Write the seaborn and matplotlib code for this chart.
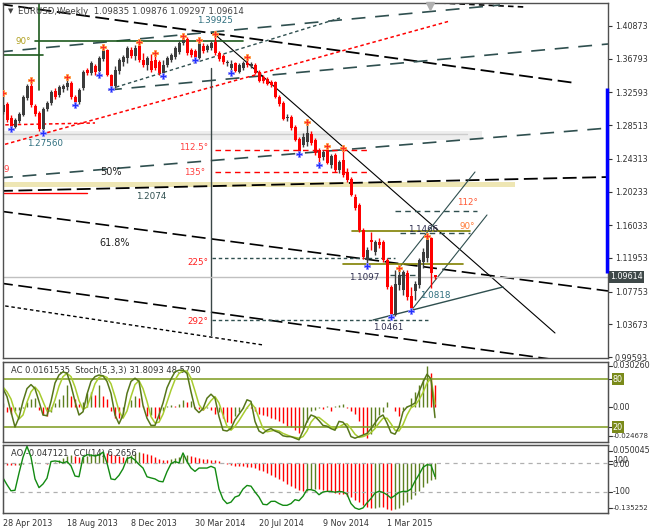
import numpy as np
import matplotlib
matplotlib.use("Agg")
import matplotlib.pyplot as plt
import matplotlib.transforms as mtransforms
import seaborn as sns

sns.set_style("white")
plt.rcParams['font.family'] = ['DejaVu Sans']
plt.rcParams['font.size'] = 5.8
plt.rcParams['lines.scale_dashes'] = False

# weekly EURUSD candles, one per week from 28 Apr 2013
opens = [1.3015, 1.3115, 1.2940, 1.2828, 1.2903, 1.2977, 1.3189, 1.3339, 1.3090, 1.3002,
         1.2803, 1.3052, 1.3127, 1.3277, 1.3227, 1.3302, 1.3327, 1.3377, 1.3202, 1.3140,
         1.3314, 1.3539, 1.3501, 1.3589, 1.3526, 1.3676, 1.3788, 1.3476, 1.3339, 1.3526,
         1.3638, 1.3688, 1.3788, 1.3713, 1.3838, 1.3663, 1.3601, 1.3651, 1.3663, 1.3638,
         1.3501, 1.3601, 1.3663, 1.3701, 1.3763, 1.3875, 1.3925, 1.3788, 1.3776, 1.3688,
         1.3838, 1.3788, 1.3813, 1.3888, 1.3751, 1.3713, 1.3626, 1.3564, 1.3626, 1.3514,
         1.3564, 1.3626, 1.3589, 1.3601, 1.3514, 1.3451, 1.3426, 1.3389, 1.3389, 1.3202,
         1.3127, 1.2940, 1.2952, 1.2828, 1.2678, 1.2603, 1.2641, 1.2741, 1.2666, 1.2541,
         1.2454, 1.2541, 1.2354, 1.2479, 1.2292, 1.2416, 1.2267, 1.2179, 1.1955, 1.1855,
         1.1544, 1.1169, 1.1419, 1.1269, 1.1394, 1.1394, 1.1169, 1.0833, 1.0483, 1.0857,
         1.0795, 1.1007, 1.0720, 1.0783, 1.0857, 1.1144, 1.1194, 1.1440, 1.09835]
highs = [1.3252, 1.3140, 1.2977, 1.2940, 1.3015, 1.3227, 1.3364, 1.3414, 1.3115, 1.3027,
         1.3077, 1.3152, 1.3289, 1.3314, 1.3352, 1.3364, 1.3451, 1.3401, 1.3227, 1.3314,
         1.3539, 1.3564, 1.3651, 1.3613, 1.3713, 1.3825, 1.3800, 1.3489, 1.3589, 1.3688,
         1.3726, 1.3838, 1.3825, 1.3850, 1.3888, 1.3751, 1.3713, 1.3738, 1.3751, 1.3663,
         1.3663, 1.3713, 1.3751, 1.3838, 1.3900, 1.3963, 1.3950, 1.3813, 1.3800, 1.3913,
         1.3875, 1.3863, 1.3900, 1.39925, 1.3776, 1.3738, 1.3663, 1.3663, 1.3638, 1.3626,
         1.3651, 1.3701, 1.3638, 1.3626, 1.3539, 1.3476, 1.3451, 1.3414, 1.3401, 1.3227,
         1.3152, 1.2990, 1.2977, 1.2853, 1.2703, 1.2753, 1.2890, 1.2778, 1.2691, 1.2566,
         1.2541, 1.2591, 1.2491, 1.2504, 1.2416, 1.2566, 1.2316, 1.2204, 1.1992, 1.1880,
         1.1569, 1.1332, 1.1519, 1.1419, 1.1444, 1.1419, 1.1194, 1.0857, 1.1045, 1.1070,
         1.1045, 1.1045, 1.0833, 1.0908, 1.1194, 1.1319, 1.1466, 1.1452, 1.09876]
lows = [1.2990, 1.2890, 1.2803, 1.2815, 1.2878, 1.2965, 1.3165, 1.3077, 1.2965, 1.2778,
        1.2756, 1.3027, 1.3102, 1.3177, 1.3202, 1.3264, 1.3289, 1.3177, 1.3102, 1.3115,
        1.3289, 1.3476, 1.3476, 1.3476, 1.3476, 1.3651, 1.3464, 1.3302, 1.3314, 1.3489,
        1.3589, 1.3626, 1.3688, 1.3663, 1.3638, 1.3576, 1.3539, 1.3514, 1.3539, 1.3476,
        1.3464, 1.3576, 1.3638, 1.3676, 1.3738, 1.3850, 1.3726, 1.3701, 1.3664, 1.3680,
        1.3751, 1.3763, 1.3788, 1.3726, 1.3651, 1.3613, 1.3589, 1.3501, 1.3514, 1.3501,
        1.3539, 1.3576, 1.3564, 1.3489, 1.3389, 1.3377, 1.3352, 1.3327, 1.3189, 1.3090,
        1.2915, 1.2903, 1.2790, 1.2653, 1.2491, 1.2578, 1.2591, 1.2603, 1.2479, 1.2360,
        1.2416, 1.2370, 1.2316, 1.2267, 1.2254, 1.2204, 1.2142, 1.1967, 1.1793, 1.1519,
        1.1182, 1.1097, 1.1294, 1.1232, 1.1319, 1.1144, 1.0808, 1.0461, 1.0475, 1.0795,
        1.0733, 1.0671, 1.0533, 1.0671, 1.0820, 1.1070, 1.1144, 1.0818, 1.09297]
closes = [1.3102, 1.2915, 1.2815, 1.2915, 1.2990, 1.3202, 1.3339, 1.3102, 1.2990, 1.2803,
          1.3052, 1.3127, 1.3264, 1.3202, 1.3327, 1.3339, 1.3377, 1.3202, 1.3140, 1.3289,
          1.3514, 1.3501, 1.3626, 1.3514, 1.3688, 1.3788, 1.3476, 1.3339, 1.3539, 1.3663,
          1.3701, 1.3813, 1.3713, 1.3813, 1.3663, 1.3601, 1.3688, 1.3539, 1.3564, 1.3501,
          1.3601, 1.3688, 1.3726, 1.3813, 1.3875, 1.3938, 1.3751, 1.3726, 1.3688, 1.3900,
          1.3776, 1.3838, 1.3875, 1.3751, 1.3676, 1.3638, 1.3638, 1.3613, 1.3526, 1.3601,
          1.3626, 1.3601, 1.3613, 1.3501, 1.3401, 1.3401, 1.3364, 1.3352, 1.3202, 1.3115,
          1.2927, 1.2952, 1.2815, 1.2666, 1.2504, 1.2703, 1.2753, 1.2628, 1.2504, 1.2441,
          1.2516, 1.2379, 1.2466, 1.2292, 1.2391, 1.2229, 1.2167, 1.1980, 1.1818, 1.1544,
          1.1207, 1.1294, 1.1394, 1.1394, 1.1357, 1.1169, 1.0833, 1.0496, 1.0870, 1.0982,
          1.1020, 1.0708, 1.0571, 1.0870, 1.1169, 1.1269, 1.1460, 1.1007, 1.09614]

ac_values = [0.003, -0.004, -0.005, -0.003, -0.002, -0.001, 0.004, 0.006, 0.007, -0.002,
             -0.006, -0.007, -0.004, 0.003, 0.006, 0.009, 0.016, 0.008, 0.006, 0.002,
             0.004, 0.010, 0.011, 0.009, 0.016, 0.008, 0.006, -0.003, -0.008, -0.008,
             -0.005, 0.000, 0.005, 0.008, 0.007, 0.001, -0.007, -0.006, -0.008, -0.009,
             -0.003, 0.001, 0.0015, 0.001, 0.002, 0.005, 0.004, 0.0045, -0.001, -0.0015,
             -0.002, -0.001, -0.002, -0.005, -0.004, -0.008, -0.011, -0.012, -0.007, -0.004,
             -0.001, -0.0005, -0.001, -0.003, -0.005, -0.006, -0.007, -0.008, -0.009, -0.010,
             -0.012, -0.014, -0.015, -0.017, -0.019, -0.016, -0.011, -0.003, -0.002, -0.001,
             -0.0015, 0.001, -0.003, 0.001, 0.0015, 0.002, -0.001, -0.003, -0.005, -0.010,
             -0.020, -0.023, -0.020, -0.015, -0.006, -0.004, 0.004, 0.000, -0.003, -0.007,
             -0.002, 0.001, 0.007, 0.011, 0.016, 0.021, 0.030, 0.025, 0.0161535]
stoch_main = [68, 58, 39, 20, 32, 52, 68, 73, 68, 52, 35, 34, 52, 75, 85, 89, 87, 72, 52, 35,
              39, 61, 77, 83, 85, 84, 77, 62, 35, 24, 35, 62, 77, 81, 77, 47, 31, 22, 22, 35,
              50, 69, 80, 89, 91, 91, 87, 64, 43, 38, 43, 56, 61, 56, 33, 16, 15, 18, 29, 36,
              43, 54, 52, 27, 15, 12, 16, 18, 15, 13, 9, 8, 8, 6, 4, 15, 27, 35, 33, 28,
              22, 21, 18, 16, 27, 26, 20, 8, 6, 8, 10, 12, 18, 25, 32, 35, 25, 13, 11, 20,
              39, 45, 47, 50, 64, 76, 86, 80, 31.8093]
stoch_signal = [70, 64, 55, 39, 30, 35, 51, 64, 70, 64, 52, 40, 40, 54, 71, 83, 87, 83, 70, 53,
                42, 45, 59, 74, 82, 84, 82, 74, 58, 40, 31, 40, 58, 73, 78, 68, 52, 33, 25, 26,
                36, 51, 66, 79, 87, 90, 90, 81, 65, 48, 41, 46, 53, 58, 50, 35, 21, 16, 21, 28,
                36, 44, 50, 44, 31, 18, 14, 15, 16, 15, 12, 10, 8, 7, 6, 8, 15, 26, 32, 32,
                28, 24, 20, 18, 20, 23, 24, 18, 11, 7, 8, 10, 13, 18, 25, 31, 31, 24, 16, 15,
                23, 35, 44, 47, 54, 63, 75, 81, 48.5790]
ao_values = [-0.003, -0.005, -0.006, -0.006, -0.005, -0.003, -0.001, 0.001, 0.002, 0.001,
             -0.001, -0.002, 0.000, 0.004, 0.009, 0.014, 0.020, 0.022, 0.020, 0.017,
             0.018, 0.021, 0.025, 0.027, 0.030, 0.032, 0.030, 0.027, 0.024, 0.020,
             0.018, 0.020, 0.024, 0.028, 0.031, 0.030, 0.026, 0.022, 0.017, 0.012,
             0.009, 0.009, 0.011, 0.014, 0.018, 0.022, 0.023, 0.021, 0.018, 0.015,
             0.012, 0.011, 0.010, 0.008, 0.005, 0.001, -0.003, -0.006, -0.008, -0.009,
             -0.010, -0.011, -0.012, -0.015, -0.019, -0.023, -0.028, -0.033, -0.039, -0.046,
             -0.053, -0.060, -0.066, -0.072, -0.077, -0.080, -0.079, -0.076, -0.074, -0.075,
             -0.077, -0.080, -0.083, -0.086, -0.088, -0.090, -0.094, -0.099, -0.105, -0.112,
             -0.120, -0.127, -0.130, -0.128, -0.126, -0.127, -0.131, -0.135, -0.133, -0.128,
             -0.120, -0.112, -0.103, -0.092, -0.080, -0.068, -0.057, -0.050, -0.047121]
cci_values = [-3, -50, -92, -88, 30, 140, 215, 140, -10, -70, -45, -5, 110, 114, 110, 100, 110, 80, 10, 5,
              140, 157, 154, 148, 155, 175, 100, -10, -15, 15, 60, 130, 140, 120, 90, 65, 5, -3, -10, -26,
              -30, 40, 95, 110, 100, 169, 110, 65, 42, 65, 65, 65, 77, 65, -80, -150, -180, -170, -135, -125,
              -80, -55, -60, -100, -135, -185, -188, -165, -164, -180, -192, -192, -180, -153, -160, -130, -84, -84, -92, -119,
              -100, -96, -96, -102, -96, -100, -115, -180, -210, -220, -210, -175, -145, -107, -95, -103, -119, -142, -124, -103,
              -96, -96, -80, -25, 20, 70, 88, 85, 6.2656]

fractal_high_bars = [0, 7, 16, 25, 34, 38, 45, 49, 53, 61, 76, 81, 85, 99, 106]
fractal_low_bars = [2, 10, 18, 24, 27, 40, 48, 57, 74, 79, 91, 97, 102]

price_ticks = [1.40873, 1.36793, 1.32593, 1.28513, 1.24313, 1.20233, 1.16033,
               1.11953, 1.07753, 1.03673, 0.99593]
date_tick_bars = [0, 16, 32, 48, 64, 80, 96]
date_tick_labels = ['28 Apr 2013', '18 Aug 2013', '8 Dec 2013', '30 Mar 2014',
                    '20 Jul 2014', '9 Nov 2014', '1 Mar 2015']

SLATE = '#2f4f4f'
DASH_LONG = (0, (10, 4))
DASH_SLATE = (0, (10, 7))
DOT = (0, (2.5, 2))
DASH_RED = (0, (4, 3))

# analyst objects: bar1, price1, bar2, price2, colour, style, width
trend_lines = [
    (-1, 1.4362, 143, 1.3377, 'black', DASH_LONG, 1.3),
    (109.25, 1.4374, 130.5, 1.4324, 'black', (0, (4, 3)), 1.2),
    (-1, 1.3763, 124.25, 1.4349, SLATE, DASH_SLATE, 1.2),
    (26.25, 1.3289, 151.25, 1.3863, SLATE, DASH_SLATE, 1.2),
    (26.75, 1.3302, 84.25, 1.4187, SLATE, DOT, 1.0),
    (-1, 1.2853, 23, 1.2878, 'red', DOT, 1.1),
    (-1, 1.2591, 111.75, 1.4150, 'red', DOT, 1.1),
    (-1, 1.2192, 151.25, 1.2815, SLATE, DASH_SLATE, 1.2),
    (-1, 1.2030, 151.25, 1.2204, 'black', DASH_LONG, 1.3),
    (0, 1.2005, 21, 1.2005, 'red', '-', 1.0),
    (-1, 1.1780, 151.25, 1.0783, 'black', DASH_LONG, 1.2),
    (-1, 1.0883, 151.25, 0.9835, 'black', DASH_LONG, 1.2),
    (-1, 1.0608, 65, 1.0110, 'black', DOT, 1.0),
    (52.75, 1.39925, 138, 1.0259, 'black', '-', 0.8),
    (52.1, 1.3564, 52.1, 1.0234, '#3a4646', '-', 1.0),
    (53, 1.2541, 91, 1.2541, 'red', DASH_RED, 1.0),
    (53, 1.2267, 91, 1.2267, 'red', DASH_RED, 1.0),
    (52.25, 1.1194, 98, 1.1194, SLATE, DOT, 1.0),
    (52.25, 1.0421, 106.75, 1.0421, SLATE, DOT, 1.0),
    (8, 1.3900, 60, 1.3900, '#1e5a1e', '-', 1.2),
    (9.1, 1.4374, 9.1, 1.3289, '#1e5a1e', '-', 1.2),
    (-1, 1.3726, 10, 1.3726, '#1e5a1e', '-', 1.2),
    (99, 1.1070, 118, 1.2267, SLATE, '-', 0.8),
    (101.75, 1.0521, 121, 1.1731, SLATE, '-', 0.8),
    (92.5, 1.0421, 125, 1.0833, SLATE, '-', 1.0),
    (87.25, 1.1531, 116.75, 1.1531, '#808000', '-', 1.2),
    (85, 1.1120, 115, 1.1120, '#808000', '-', 1.2),
    (99.25, 1.1506, 116.75, 1.1506, SLATE, (0, (4, 3)), 1.0),
    (98, 1.1780, 118.5, 1.1780, SLATE, (0, (4, 3)), 1.0),
    (96.75, 1.0983, 104.25, 1.0983, SLATE, (0, (4, 3)), 1.0),
]

# shaded zones: bar1, bar2, price low, price high, colour
zones = [
    (-1, 119.75, 1.2666, 1.2778, '#eeeeee'),
    (-1, 128, 1.2080, 1.2142, '#eee6b4'),
]

# labels: bar, price, text, colour, alignment, size
annotations = [
    (6, 1.2628, '1.27560', '#2f6f7f', 'left', 6.3),
    (53.1, 1.4150, '1.39925', '#2f6f7f', 'center', 6.3),
    (3, 1.3888, '90°', '#b0a020', 'left', 6.3),
    (51.25, 1.2566, '112.5°', '#ff4040', 'right', 6.3),
    (50.5, 1.2260, '135°', '#ff4040', 'right', 6.3),
    (51.25, 1.1144, '225°', '#ff2020', 'right', 6.3),
    (51.25, 1.0408, '292°', '#ff2020', 'right', 6.3),
    (0.2, 1.2292, '9', '#ff4040', 'left', 6.3),
    (27, 1.2267, '50%', '#202020', 'center', 7),
    (28, 1.1381, '61.8%', '#202020', 'center', 7),
    (37, 1.1967, '1.2074', SLATE, 'center', 6.3),
    (105.1, 1.1555, '1.1466', '#303050', 'center', 6.3),
    (90.25, 1.0945, '1.1097', '#303050', 'center', 6.3),
    (108, 1.0721, '1.0818', '#2f6f7f', 'center', 6.3),
    (96.25, 1.0327, '1.0461', '#303050', 'center', 6.3),
    (116, 1.1886, '112°', '#ff5a36', 'center', 6.3),
    (116, 1.1581, '90°', '#ff7a36', 'center', 6.3),
]

BULL = '#3c3c3c'
BEAR = '#ff0000'
OSC_UP = '#5d7f1f'
FRAME = '#505050'

o = np.array(opens)
h = np.array(highs)
lo = np.array(lows)
c = np.array(closes)
xs = np.arange(len(c))

fig = plt.figure(figsize=(6.5, 5.3), dpi=100)
W, H = 650.0, 530.0
left, width = 3 / W, 605 / W
ax = fig.add_axes([left, (H - 358) / H, width, 355 / H])
ax1 = fig.add_axes([left, (H - 442) / H, width, 80 / H], sharex=ax)
ax2 = fig.add_axes([left, (H - 513) / H, width, 68 / H], sharex=ax)

for a in (ax, ax1, ax2):
    for s in a.spines.values():
        s.set_color(FRAME)
        s.set_linewidth(1.0)
    a.set_facecolor('white')

ax.set_xlim(0, 151.25)
ax.set_ylim(0.99472, 1.43741)

# zones and drawing objects
for b1, b2, p1, p2, col in zones:
    ax.fill_between([b1, b2], p1, p2, color=col, lw=0, zorder=0.5)
ax.plot([-1, 116], [1.2741, 1.2741], color='#cccccc', lw=1, zorder=0.6)
for b1, p1, b2, p2, col, ls, lw in trend_lines:
    ax.plot([b1, b2], [p1, p2], color=col, ls=ls, lw=lw, zorder=1)

ax.axhline(c[-1], color='#c0c0c0', lw=1, zorder=1.5)

# candles
up = c >= o
cols = np.where(up, BULL, BEAR)
ax.vlines(xs, lo, h, colors=cols, lw=1, zorder=3)
body_lo = np.minimum(o, c)
body_h = np.maximum(np.abs(c - o), 0.0012)
ax.bar(xs, body_h, bottom=body_lo, width=0.75, color=cols, lw=0, zorder=3.1)

# fractal markers
hb = np.array(fractal_high_bars)
lb = np.array(fractal_low_bars)
ax.scatter(hb, h[hb], marker='P', s=16, color='#ff2a2a', edgecolors='#ffa040',
           linewidths=0.6, zorder=4)
ax.scatter(lb, lo[lb], marker='P', s=16, color='#2030ff', edgecolors='#9090ff',
           linewidths=0.6, zorder=4)

for b, p, txt, col, ha, fs in annotations:
    ax.text(b, p, txt, color=col, ha=ha, va='center', fontsize=fs, zorder=5)

# shift marker at top
ax.plot([106.75], [1.4337], marker='v', ms=6, color='#b0b0b0', clip_on=False, zorder=6)

# right price scale
ax.yaxis.tick_right()
ax.set_yticks(price_ticks)
ax.set_yticklabels([f'{v:.5f}' for v in price_ticks])
ax.tick_params(axis='y', direction='out', length=3, width=0.8, colors='#333333',
               labelsize=5.8, pad=2)
ax.tick_params(axis='x', bottom=False, labelbottom=False)

blend = mtransforms.blended_transform_factory(ax.transAxes, ax.transData)
ax.text(1.004, c[-1], f'{c[-1]:.5f}', transform=blend, ha='left', va='center',
        color='white', fontsize=5.8,
        bbox=dict(boxstyle='square,pad=0.18', fc='#3e4848', ec='none'), zorder=7)
ax.plot([151.0, 151.0], [1.3314, 1.1007], color='#0000ff', lw=2.5,
        solid_capstyle='butt', clip_on=False, zorder=6)

# AC + Stochastic panel
ac = np.array(ac_values)
ac_cols = [OSC_UP] + [OSC_UP if ac[i] > ac[i - 1] else BEAR for i in range(1, len(ac))]
ax1.vlines(xs, 0, ac, colors=ac_cols, lw=1.0)
ax1.set_ylim(-0.02583, 0.03321)
ax1b = ax1.twinx()
ax1b.set_ylim(1.25, 101.25)
ax1b.axhline(80, color='#7c9a1c', lw=1.1)
ax1b.axhline(20, color='#7c9a1c', lw=1.1)
sns.lineplot(x=xs, y=np.array(stoch_signal, dtype=float), ax=ax1b, color='#a8cc30', lw=1.1)
sns.lineplot(x=xs, y=np.array(stoch_main, dtype=float), ax=ax1b, color='#56761a', lw=1.1)

# AO + CCI panel
ao = np.array(ao_values)
ao_cols = [OSC_UP] + [OSC_UP if ao[i] > ao[i - 1] else BEAR for i in range(1, len(ao))]
ax2.vlines(xs, 0, ao, colors=ao_cols, lw=1.0)
ax2.set_ylim(-0.1435, 0.0517)
ax2b = ax2.twinx()
ax2b.set_ylim(-245, 224)
ax2b.axhline(100, color='#b0b0b0', lw=0.9, ls=(0, (3, 3)))
ax2b.axhline(-100, color='#b0b0b0', lw=0.9, ls=(0, (3, 3)))
sns.lineplot(x=xs, y=np.array(cci_values, dtype=float), ax=ax2b, color='#128a12', lw=1.0)

for a in (ax1, ax1b, ax2, ax2b):
    a.set_yticks([])
    a.set_ylabel('')
    a.set_xlabel('')
    a.tick_params(axis='y', left=False, right=False)
for a in (ax1, ax1b, ax2b):
    a.tick_params(axis='x', bottom=False, labelbottom=False)
for a in (ax1b, ax2b):
    for s in a.spines.values():
        s.set_color(FRAME)

ax2.set_xticks(date_tick_bars)
ax2.set_xticklabels(date_tick_labels, ha='left')
ax2.tick_params(axis='x', direction='out', length=3, width=0.8, colors='#333333',
                labelsize=5.8, pad=1.5)
ax2.set_xlim(0, 151.25)

# panel scale labels (axes fraction, text, boxed, size)
panel1_labels = [(0.95, '0.030260', False, 5.8), (0.7875, '80', True, 5.8),
                 (0.4375, '0.00', False, 5.8), (0.1875, '20', True, 5.8),
                 (0.075, '-0.024678', False, 5.0)]
panel2_labels = [(0.912, '0.050045', False, 5.8), (0.765, '100', False, 5.8),
                 (0.72, '0.00', False, 5.8), (0.309, '-100', False, 5.8),
                 (0.074, '-0.135252', False, 5.0)]
for a, labs in ((ax1, panel1_labels), (ax2, panel2_labels)):
    for fy, txt, boxed, fs in labs:
        if boxed:
            a.text(1.008, fy, txt, transform=a.transAxes, ha='left', va='center',
                   fontsize=fs, color='white',
                   bbox=dict(boxstyle='square,pad=0.15', fc='#7a8a1a', ec='none'))
        else:
            a.text(1.008, fy, txt, transform=a.transAxes, ha='left', va='center',
                   fontsize=fs, color='#333333')
        a.plot([1.0, 1.006], [fy, fy], transform=a.transAxes, color='#333333',
               lw=0.8, clip_on=False)

ax1.text(8 / 605, 0.89, 'AC 0.0161535  Stoch(5,3,3) 31.8093 48.5790', transform=ax1.transAxes,
         ha='left', va='center', fontsize=6, color='#333333')
ax2.text(8 / 605, 0.88, 'AO -0.047121  CCI(14) 6.2656', transform=ax2.transAxes,
         ha='left', va='center', fontsize=6, color='#333333')

fig.text(8 / W, 1 - 11 / H, '▼', fontsize=5, color='#404040', va='center')
fig.text(18 / W, 1 - 11 / H, 'EURUSD,Weekly  1.09835 1.09876 1.09297 1.09614',
         fontsize=6.2, color='#404040', va='center')

fig.savefig('out.png', dpi=100)
